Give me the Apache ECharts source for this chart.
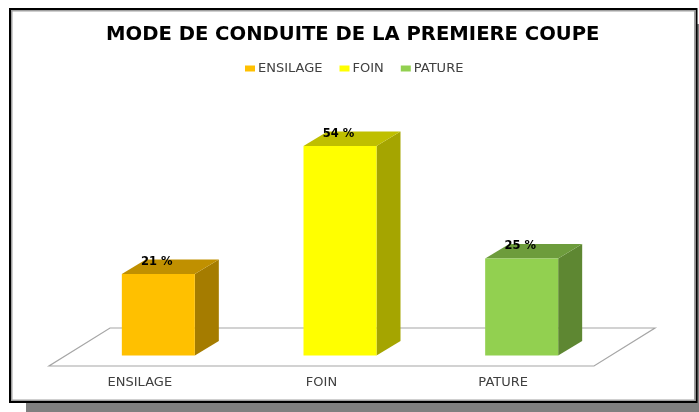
<!DOCTYPE html>
<html>
<head>
<meta charset="utf-8">
<title>Mode de conduite de la première coupe</title>
<style>
  html, body { margin: 0; padding: 0; background: #fff; }
  #chart { width: 699px; height: 412px; }
</style>
<script src="https://cdn.jsdelivr.net/npm/echarts@6/dist/echarts.min.js"></script>
</head>
<body>
<div id="chart"></div>
<script>
const categories = ["ENSILAGE", "FOIN", "PATURE"];
const values = [21, 54, 25];
const frontColors = ["#FFC000", "#FFFF00", "#92D050"];
const topColors = ["#C09000", "#BFBF00", "#6D9C3C"];
const sideColors = ["#A57C00", "#A5A500", "#5E8732"];

const font = "'DejaVu Sans', sans-serif";

// oblique offsets of the 3d look
const floorDepth = [61, -38];
const barShift = [18.5, -10.5];
const barDepth = [24, -14.5];
const barWidth = 73;

const chart = echarts.init(document.getElementById("chart"), null, { renderer: "canvas" });

function renderFloor(params, api) {
  const c = params.coordSys;
  const y0 = c.y + c.height;
  return {
    type: "polygon",
    shape: {
      points: [
        [c.x, y0],
        [c.x + c.width, y0],
        [c.x + c.width + floorDepth[0], y0 + floorDepth[1]],
        [c.x + floorDepth[0], y0 + floorDepth[1]],
      ],
    },
    style: { fill: "#fff", stroke: "#a6a6a6", lineWidth: 1.2 },
  };
}

function renderBar(params, api) {
  const i = api.value(0);
  const base = api.coord([i, 0]);
  const top = api.coord([i, api.value(1)]);
  const x0 = base[0] + barShift[0] - barWidth / 2;
  const x1 = x0 + barWidth;
  const y0 = base[1] + barShift[1];
  const y1 = top[1] + barShift[1];
  const dx = barDepth[0];
  const dy = barDepth[1];
  return {
    type: "group",
    children: [
      {
        type: "polygon",
        shape: { points: [[x1, y0], [x1 + dx, y0 + dy], [x1 + dx, y1 + dy], [x1, y1]] },
        style: { fill: sideColors[i] },
      },
      {
        type: "polygon",
        shape: { points: [[x0, y1], [x1, y1], [x1 + dx, y1 + dy], [x0 + dx, y1 + dy]] },
        style: { fill: topColors[i] },
      },
      {
        type: "rect",
        shape: { x: x0, y: y1, width: barWidth, height: y0 - y1 },
        style: { fill: frontColors[i] },
      },
      {
        type: "text",
        x: x0 + barWidth / 2 - 1.5,
        y: y1 + dy + 2.5,
        style: {
          text: values[i] + " %",
          font: "bold 11.5px " + font,
          fill: "#000",
          align: "center",
          verticalAlign: "middle",
        },
      },
    ],
  };
}

const barSeries = categories.map((name, i) => ({
  name: name,
  type: "custom",
  renderItem: renderBar,
  clip: false,
  z: 3,
  itemStyle: { color: frontColors[i] },
  encode: { x: 0, y: 1 },
  data: [[i, values[i]]],
}));

chart.setOption({
  animation: false,
  backgroundColor: "#fff",
  title: {
    text: "MODE DE CONDUITE DE LA PREMIERE COUPE",
    left: 101,
    top: 20,
    textStyle: { fontFamily: font, fontWeight: "bold", fontSize: 19.6, color: "#000" },
  },
  legend: {
    data: categories,
    top: 57,
    left: 240,
    itemWidth: 10,
    itemHeight: 6,
    itemGap: 17,
    itemStyle: { borderWidth: 0 },
    icon: "rect",
    textStyle: { fontFamily: font, fontSize: 13, color: "#404040", padding: [0, 0, 0, -2] },
  },
  grid: { left: 49, width: 545, top: 133.2, bottom: 46 },
  xAxis: {
    type: "category",
    data: categories,
    axisLine: { show: false },
    axisTick: { show: false },
    axisLabel: { margin: 10, fontFamily: font, fontSize: 13, color: "#404040" },
  },
  yAxis: { type: "value", min: 0, max: 60, show: false },
  graphic: [
    // grey drop shadow then black frame of the picture
    { type: "rect", z: -10, shape: { x: 26, y: 402, width: 673, height: 10 }, style: { fill: "#7f7f7f" } },
    { type: "rect", z: -10, shape: { x: 696, y: 24, width: 3, height: 380 }, style: { fill: "#7f7f7f" } },
    { type: "rect", z: -9, shape: { x: 10, y: 9, width: 686.5, height: 393 },
      style: { fill: "#fff", stroke: "#000", lineWidth: 2 } },
    { type: "rect", z: -8, shape: { x: 11.75, y: 10.75, width: 683, height: 389.5 },
      style: { fill: "none", stroke: "#a0a0a0", lineWidth: 1.5 } },
  ],
  series: [
    { name: "floor", type: "custom", renderItem: renderFloor, clip: false, z: 1, silent: true, data: [[0, 0]] },
    ...barSeries,
  ],
});
</script>
</body>
</html>
